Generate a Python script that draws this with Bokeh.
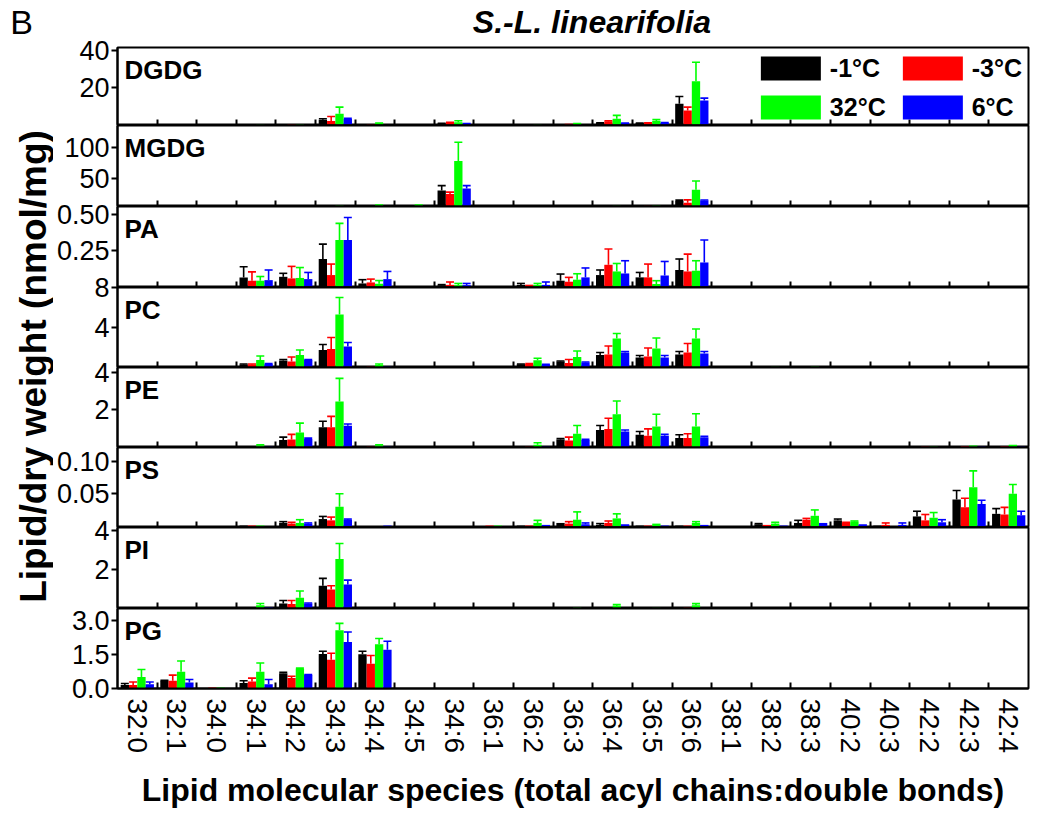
import math
from bokeh.plotting import figure
from bokeh.models import (ColumnDataSource, Range1d, FixedTicker, LinearAxis, Label,
                          Legend, LegendItem, Whisker, TeeHead, PrintfTickFormatter)
from bokeh.layouts import row, column
from bokeh.embed import file_html
from bokeh.resources import INLINE

FONT = "Liberation Sans"

categories = ["32:0", "32:1", "34:0", "34:1", "34:2", "34:3", "34:4", "34:5", "34:6",
              "36:1", "36:2", "36:3", "36:4", "36:5", "36:6", "38:1", "38:2", "38:3",
              "40:2", "40:3", "42:2", "42:3", "42:4"]
series = ["-1°C", "-3°C", "32°C", "6°C"]
colors = ["#000000", "#ff0000", "#00ff00", "#0000ff"]

# ---------------- data (mean, sd) : index order = categories ----------------
DGDG_n1    = [0,   0,   0,   0,   0.1, 2.6,  0,   0,   0.5, 0,   0,   0,   0.7, 0.7, 11.2, 0,   0,   0,   0,   0,   0,   0,   0]
DGDG_n3    = [0,   0,   0,   0,   0.2, 1.9,  0.2, 0,   0.9, 0,   0,   0.3, 1.6, 0.7, 7.6,  0,   0,   0,   0,   0,   0,   0,   0]
DGDG_p32   = [0,   0,   0,   0.1, 0.2, 5.8,  0.5, 0,   1.2, 0,   0.1, 0.3, 3.1, 1.8, 23.5, 0,   0,   0,   0,   0,   0,   0,   0]
DGDG_p6    = [0,   0,   0,   0,   0,   3.0,  0,   0,   0.4, 0,   0,   0,   0.7, 0.9, 13.0, 0,   0,   0,   0,   0,   0,   0,   0]
DGDG_n1_sd = [0,   0,   0,   0,   0,   0.5,  0,   0,   0.1, 0,   0,   0,   0.2, 0.1, 4.0,  0,   0,   0,   0,   0,   0,   0,   0]
DGDG_n3_sd = [0,   0,   0,   0,   0,   2.4,  0,   0,   0.3, 0,   0,   0,   0.3, 0.2, 1.8,  0,   0,   0,   0,   0,   0,   0,   0]
DGDG_p32_sd= [0,   0,   0,   0,   0,   3.6,  0.2, 0,   0.8, 0,   0,   0.1, 1.8, 0.8, 10.4, 0,   0,   0,   0,   0,   0,   0,   0]
DGDG_p6_sd = [0,   0,   0,   0,   0,   0.3,  0,   0,   0.1, 0,   0,   0,   0.1, 0.1, 1.3,  0,   0,   0,   0,   0,   0,   0,   0]

MGDG_n1    = [0, 0, 0, 0, 0, 0,   0,   0,   30.6, 0, 0, 0, 0,   0,   13.7, 0, 0, 0, 0, 0, 0, 0, 0]
MGDG_n3    = [0, 0, 0, 0, 0, 0,   6.0, 6.0, 25.0, 0, 0, 0, 0,   6.2, 11.0, 0, 0, 0, 0, 0, 0, 0, 0]
MGDG_p32   = [0, 0, 0, 0, 0, 6.5, 6.8, 6.8, 78.0, 0, 0, 0, 6.3, 6.5, 32.0, 0, 0, 0, 0, 0, 0, 0, 0]
MGDG_p6    = [0, 0, 0, 0, 0, 0,   0,   0,   33.7, 0, 0, 0, 0,   0,   14.8, 0, 0, 0, 0, 0, 0, 0, 0]
MGDG_n1_sd = [0, 0, 0, 0, 0, 0,   0,   0,   7.9,  0, 0, 0, 0,   0,   1.5,  0, 0, 0, 0, 0, 0, 0, 0]
MGDG_n3_sd = [0, 0, 0, 0, 0, 0,   0,   0,   3.0,  0, 0, 0, 0,   0,   4.7,  0, 0, 0, 0, 0, 0, 0, 0]
MGDG_p32_sd= [0, 0, 0, 0, 0, 0,   0.5, 0.5, 30.0, 0, 0, 0, 0,   0,   14.0, 0, 0, 0, 0, 0, 0, 0, 0]
MGDG_p6_sd = [0, 0, 0, 0, 0, 0,   0,   0,   4.8,  0, 0, 0, 0,   0,   0.7,  0, 0, 0, 0, 0, 0, 0, 0]

PA_n1    = [0, 0, 0, 0.062, 0.066, 0.189, 0.020, 0, 0.008, 0, 0.010, 0.039, 0.078, 0.062, 0.113, 0, 0, 0, 0, 0, 0, 0, 0]
PA_n3    = [0, 0, 0, 0.039, 0.055, 0.078, 0.027, 0, 0.010, 0, 0.003, 0.032, 0.149, 0.062, 0.103, 0, 0, 0, 0, 0, 0, 0, 0]
PA_p32   = [0, 0, 0, 0.039, 0.058, 0.320, 0.018, 0, 0.008, 0, 0.010, 0.046, 0.103, 0.016, 0.108, 0, 0, 0, 0, 0, 0, 0, 0]
PA_p6    = [0, 0, 0, 0.043, 0.050, 0.320, 0.050, 0, 0.008, 0, 0.010, 0.062, 0.089, 0.075, 0.165, 0, 0, 0, 0, 0, 0, 0, 0]
PA_n1_sd = [0, 0, 0, 0.073, 0.024, 0.103, 0.026, 0, 0.004, 0, 0.010, 0.046, 0.035, 0.034, 0.076, 0, 0, 0, 0, 0, 0, 0, 0]
PA_n3_sd = [0, 0, 0, 0.061, 0.083, 0.076, 0.023, 0, 0.020, 0, 0.003, 0.030, 0.109, 0.092, 0.120, 0, 0, 0, 0, 0, 0, 0, 0]
PA_p32_sd= [0, 0, 0, 0.029, 0.072, 0.115, 0.022, 0, 0.012, 0, 0.010, 0.041, 0.055, 0.023, 0.069, 0, 0, 0, 0, 0, 0, 0, 0]
PA_p6_sd = [0, 0, 0, 0.070, 0.046, 0.156, 0.053, 0, 0.012, 0, 0.020, 0.065, 0.088, 0.097, 0.155, 0, 0, 0, 0, 0, 0, 0, 0]

PC_n1    = [0, 0, 0, 0.30, 0.70, 1.75, 0.08, 0, 0, 0, 0.32, 0.60, 1.25, 1.00, 1.30, 0, 0.05, 0.04, 0, 0, 0, 0, 0]
PC_n3    = [0, 0, 0, 0.30, 0.60, 1.85, 0.10, 0, 0, 0, 0.35, 0.45, 1.30, 1.10, 1.50, 0, 0.03, 0.05, 0, 0, 0, 0, 0]
PC_p32   = [0, 0, 0, 0.75, 1.25, 5.30, 0.25, 0, 0, 0, 0.72, 1.05, 2.90, 1.90, 2.90, 0, 0.08, 0.10, 0, 0, 0, 0, 0]
PC_p6    = [0, 0, 0, 0.35, 0.75, 2.10, 0.10, 0, 0, 0, 0.30, 0.50, 1.50, 1.00, 1.40, 0, 0.03, 0.03, 0, 0, 0, 0, 0]
PC_n1_sd = [0, 0, 0, 0.05, 0.10, 0.55, 0,    0, 0, 0, 0.03, 0.05, 0.25, 0.20, 0.30, 0, 0,    0,    0, 0, 0, 0, 0]
PC_n3_sd = [0, 0, 0, 0.05, 0.45, 1.15, 0,    0, 0, 0, 0.05, 0.35, 0.85, 0.85, 0.90, 0, 0,    0,    0, 0, 0, 0, 0]
PC_p32_sd= [0, 0, 0, 0.40, 0.50, 1.70, 0.10, 0, 0, 0, 0.20, 0.60, 0.50, 1.05, 0.95, 0, 0,    0,    0, 0, 0, 0, 0]
PC_p6_sd = [0, 0, 0, 0.05, 0.05, 0.40, 0,    0, 0, 0, 0.03, 0.05, 0.10, 0.20, 0.20, 0, 0,    0,    0, 0, 0, 0, 0]

PE_n1    = [0, 0, 0, 0.03, 0.40, 1.08, 0.05, 0, 0, 0, 0.03, 0.42, 0.93, 0.68, 0.50, 0, 0, 0.02, 0.02, 0.02, 0.03, 0.03, 0.05]
PE_n3    = [0, 0, 0, 0.03, 0.42, 1.08, 0.05, 0, 0, 0, 0.05, 0.37, 0.98, 0.63, 0.50, 0, 0, 0.02, 0.02, 0.03, 0.05, 0.08, 0.08]
PE_p32   = [0, 0, 0, 0.10, 0.80, 2.45, 0.10, 0, 0, 0, 0.15, 0.73, 1.77, 1.12, 1.12, 0, 0, 0.03, 0.03, 0.02, 0.05, 0.10, 0.15]
PE_p6    = [0, 0, 0, 0.05, 0.45, 1.16, 0.05, 0, 0, 0, 0.05, 0.40, 0.85, 0.63, 0.55, 0, 0, 0.02, 0.02, 0.02, 0.03, 0.05, 0.05]
PE_n1_sd = [0, 0, 0, 0,    0.15, 0.32, 0,    0, 0, 0, 0,    0.05, 0.24, 0.17, 0.18, 0, 0, 0, 0, 0, 0, 0, 0]
PE_n3_sd = [0, 0, 0, 0,    0.28, 0.58, 0,    0, 0, 0, 0,    0.18, 0.58, 0.36, 0.23, 0, 0, 0, 0, 0, 0, 0, 0]
PE_p32_sd= [0, 0, 0, 0.05, 0.50, 1.23, 0.05, 0, 0, 0, 0.10, 0.44, 0.71, 0.65, 0.68, 0, 0, 0, 0, 0, 0, 0, 0]
PE_p6_sd = [0, 0, 0, 0,    0.05, 0.09, 0,    0, 0, 0, 0,    0.03, 0.08, 0.07, 0.05, 0, 0, 0, 0, 0, 0, 0, 0]

PS_n1    = [0, 0, 0, 0.001, 0.005, 0.011, 0,     0, 0, 0,     0.001, 0.005, 0.002, 0.001, 0.001, 0, 0.003, 0.005, 0.009, 0.001, 0.015, 0.041, 0.019]
PS_n3    = [0, 0, 0, 0.001, 0.004, 0.009, 0,     0, 0, 0.001, 0.001, 0.004, 0.005, 0.001, 0.001, 0, 0.002, 0.010, 0.005, 0.002, 0.009, 0.029, 0.018]
PS_p32   = [0, 0, 0, 0.001, 0.005, 0.030, 0,     0, 0, 0.001, 0.005, 0.010, 0.012, 0.004, 0.005, 0, 0.004, 0.016, 0.007, 0,     0.013, 0.060, 0.050]
PS_p6    = [0, 0, 0, 0,     0.004, 0.010, 0.001, 0, 0, 0,     0.002, 0.003, 0.003, 0.001, 0.002, 0, 0.001, 0.005, 0.003, 0.002, 0.006, 0.034, 0.017]
PS_n1_sd = [0, 0, 0, 0,     0.002, 0.004, 0,     0, 0, 0,     0,     0,     0.002, 0,     0,     0, 0.001, 0.004, 0.002, 0,     0.008, 0.014, 0.008]
PS_n3_sd = [0, 0, 0, 0,     0.002, 0.005, 0,     0, 0, 0,     0,     0.003, 0.003, 0,     0,     0, 0,     0.002, 0.001, 0.003, 0.009, 0.014, 0.011]
PS_p32_sd= [0, 0, 0, 0,     0.005, 0.020, 0,     0, 0, 0,     0.004, 0.012, 0.007, 0,     0.002, 0, 0.002, 0.009, 0.001, 0,     0.008, 0.025, 0.014]
PS_p6_sd = [0, 0, 0, 0,     0.001, 0.001, 0,     0, 0, 0,     0,     0.002, 0,     0,     0,     0, 0,     0,     0,     0.003, 0.004, 0.006, 0.006]

PI_n1    = [0, 0, 0, 0.05, 0.26, 1.17, 0,    0, 0, 0.02, 0,    0,    0.02, 0.02, 0.02, 0, 0, 0, 0, 0, 0, 0, 0]
PI_n3    = [0, 0, 0, 0.03, 0.23, 0.98, 0,    0, 0, 0,    0,    0,    0.03, 0.03, 0.05, 0, 0, 0, 0, 0, 0, 0, 0]
PI_p32   = [0, 0, 0, 0.17, 0.55, 2.55, 0.03, 0, 0, 0.03, 0.02, 0.05, 0.14, 0.04, 0.17, 0, 0, 0, 0, 0, 0, 0, 0]
PI_p6    = [0, 0, 0, 0.08, 0.26, 1.24, 0,    0, 0, 0,    0,    0,    0.02, 0,    0.03, 0, 0, 0, 0, 0, 0, 0, 0]
PI_n1_sd = [0, 0, 0, 0,    0.15, 0.38, 0,    0, 0, 0,    0,    0,    0,    0,    0,    0, 0, 0, 0, 0, 0, 0, 0]
PI_n3_sd = [0, 0, 0, 0,    0.18, 0.19, 0,    0, 0, 0,    0,    0,    0,    0,    0,    0, 0, 0, 0, 0, 0, 0, 0]
PI_p32_sd= [0, 0, 0, 0.09, 0.35, 0.80, 0,    0, 0, 0,    0,    0,    0.06, 0,    0.08, 0, 0, 0, 0, 0, 0, 0, 0]
PI_p6_sd = [0, 0, 0, 0,    0.02, 0.22, 0,    0, 0, 0,    0,    0,    0,    0,    0,    0, 0, 0, 0, 0, 0, 0, 0]

PG_n1    = [0.15, 0.34, 0.02, 0.24, 0.68, 1.53, 1.52, 0, 0, 0, 0, 0, 0, 0, 0, 0, 0, 0, 0, 0, 0, 0, 0]
PG_n3    = [0.15, 0.34, 0.04, 0.31, 0.46, 1.27, 1.10, 0, 0, 0, 0, 0, 0, 0, 0, 0, 0, 0, 0, 0, 0, 0, 0]
PG_p32   = [0.51, 0.74, 0.04, 0.74, 0.87, 2.58, 1.96, 0, 0, 0, 0, 0, 0, 0, 0, 0, 0, 0, 0, 0, 0, 0, 0]
PG_p6    = [0.19, 0.27, 0,    0.19, 0.60, 2.06, 1.72, 0, 0, 0, 0, 0, 0, 0, 0, 0, 0, 0, 0, 0, 0, 0, 0]
PG_n1_sd = [0.07, 0.02, 0,    0.10, 0.04, 0.12, 0.13, 0, 0, 0, 0, 0, 0, 0, 0, 0, 0, 0, 0, 0, 0, 0, 0]
PG_n3_sd = [0.14, 0.25, 0,    0.15, 0.08, 0.29, 0.36, 0, 0, 0, 0, 0, 0, 0, 0, 0, 0, 0, 0, 0, 0, 0, 0]
PG_p32_sd= [0.33, 0.48, 0,    0.39, 0.03, 0.30, 0.25, 0, 0, 0, 0, 0, 0, 0, 0, 0, 0, 0, 0, 0, 0, 0, 0]
PG_p6_sd = [0.10, 0.13, 0,    0.21, 0.02, 0.44, 0.37, 0, 0, 0, 0, 0, 0, 0, 0, 0, 0, 0, 0, 0, 0, 0, 0]

# panel: name, means, sds, y-range, y ticks, tick format
panels = [
    ("DGDG", [DGDG_n1, DGDG_n3, DGDG_p32, DGDG_p6], [DGDG_n1_sd, DGDG_n3_sd, DGDG_p32_sd, DGDG_p6_sd], (-0.6, 41.9), [20, 40], "%d"),
    ("MGDG", [MGDG_n1, MGDG_n3, MGDG_p32, MGDG_p6], [MGDG_n1_sd, MGDG_n3_sd, MGDG_p32_sd, MGDG_p6_sd], (5.0, 135.0), [50, 100], "%d"),
    ("PA", [PA_n1, PA_n3, PA_p32, PA_p6], [PA_n1_sd, PA_n3_sd, PA_p32_sd, PA_p6_sd], (-0.008, 0.552), [0.25, 0.50], "%.2f"),
    ("PC", [PC_n1, PC_n3, PC_p32, PC_p6], [PC_n1_sd, PC_n3_sd, PC_p32_sd, PC_p6_sd], (0.0, 8.0), [4, 8], "%d"),
    ("PE", [PE_n1, PE_n3, PE_p32, PE_p6], [PE_n1_sd, PE_n3_sd, PE_p32_sd, PE_p6_sd], (0.0, 4.26), [2, 4], "%d"),
    ("PS", [PS_n1, PS_n3, PS_p32, PS_p6], [PS_n1_sd, PS_n3_sd, PS_p32_sd, PS_p6_sd], (-0.002, 0.121), [0.05, 0.10], "%.2f"),
    ("PI", [PI_n1, PI_n3, PI_p32, PI_p6], [PI_n1_sd, PI_n3_sd, PI_p32_sd, PI_p6_sd], (0.0, 4.17), [2, 4], "%d"),
    ("PG", [PG_n1, PG_n3, PG_p32, PG_p6], [PG_n1_sd, PG_n3_sd, PG_p32_sd, PG_p6_sd], (0.0, 3.54), [0.0, 1.5, 3.0], "%.1f"),
]

frame_h = [78, 81, 81, 80, 80, 80, 81, 80]
OV = 16                 # overlap so that edge tick labels are not cut
LAB_W = 45
LEFT, RIGHT = 62, 14
FRAME_W = 913
W = LEFT + FRAME_W + RIGHT
TITLE_H = 47
BOTTOM_LAST = 122

ncat = len(categories)
x_range = Range1d(-0.5, ncat - 0.5)
offsets = [-0.315, -0.105, 0.105, 0.315]
bar_w = 0.21
boundaries = [k + 0.5 for k in range(ncat - 1)]


def blank_fig(width, height):
    f = figure(width=width, height=height, x_range=Range1d(0, 1), y_range=Range1d(0, 1),
               output_backend="svg", toolbar_location=None,
               x_axis_location=None, y_axis_location=None, min_border=0)
    f.grid.visible = False
    f.outline_line_color = None
    f.border_fill_color = None
    f.background_fill_color = None
    return f


# title strip
title_fig = blank_fig(W, TITLE_H)
title_fig.add_layout(Label(x=LEFT + FRAME_W / 2 - 44, y=TITLE_H - 21, x_units="screen", y_units="screen",
                           text="S.-L. linearifolia", text_font=FONT,
                           text_font_style="bold italic", text_font_size="32px",
                           text_color="black", text_align="center", text_baseline="middle"))

figs = []
for i, (name, means, sds, (lo, hi), yt, fmt) in enumerate(panels):
    first = i == 0
    last = i == len(panels) - 1
    bot_b = BOTTOM_LAST if last else 0
    p = figure(width=W, height=frame_h[i] + OV + bot_b,
               x_range=x_range, y_range=Range1d(lo, hi),
               output_backend="svg", toolbar_location=None,
               x_axis_location=None, y_axis_location=None,
               min_border_left=LEFT, min_border_right=RIGHT,
               min_border_top=OV, min_border_bottom=bot_b,
               margin=(-OV, 0, 0, 0))
    p.grid.visible = False
    p.outline_line_color = "black"
    p.outline_line_width = 2
    p.border_fill_color = None
    p.background_fill_color = "white"

    # x axis: inward ticks at the category boundaries
    if last:
        xa = LinearAxis(ticker=FixedTicker(ticks=list(range(ncat)), minor_ticks=boundaries))
        xa.major_label_overrides = {k: c for k, c in enumerate(categories)}
        xa.major_label_orientation = "vertical"
        xa.major_label_text_font = FONT
        xa.major_label_text_font_size = "28px"
        xa.major_label_text_color = "black"
        xa.major_label_standoff = 10
        xa.axis_label = "Lipid molecular species (total acyl chains:double bonds)"
        xa.axis_label_text_font = FONT
        xa.axis_label_text_font_size = "32px"
        xa.axis_label_text_font_style = "bold"
        xa.axis_label_text_color = "black"
        xa.axis_label_standoff = 16
    else:
        xa = LinearAxis(ticker=FixedTicker(ticks=[], minor_ticks=boundaries))
    xa.major_tick_in = 0
    xa.major_tick_out = 0
    xa.minor_tick_in = 6
    xa.minor_tick_out = 0
    xa.minor_tick_line_width = 2
    xa.minor_tick_line_color = "black"
    xa.axis_line_width = 2
    xa.axis_line_color = "black"
    p.add_layout(xa, "below")

    ya = LinearAxis(ticker=FixedTicker(ticks=yt, minor_ticks=[]),
                    formatter=PrintfTickFormatter(format=fmt),
                    major_tick_out=6, major_tick_in=0,
                    minor_tick_out=0, minor_tick_in=0,
                    major_tick_line_width=2, axis_line_width=2,
                    major_label_text_font=FONT, major_label_text_font_size="27px",
                    major_label_text_color="black", major_label_standoff=2)
    p.add_layout(ya, "left")

    rends = []
    for s in range(4):
        xs = [k + offsets[s] for k in range(ncat)]
        src = ColumnDataSource(dict(x=xs, top=means[s]))
        r = p.vbar(x="x", top="top", bottom=0, width=bar_w, source=src,
                   fill_color=colors[s], line_color=None)
        rends.append(r)
        ex = [xs[k] for k in range(ncat) if sds[s][k] > 0]
        el = [means[s][k] for k in range(ncat) if sds[s][k] > 0]
        eu = [means[s][k] + sds[s][k] for k in range(ncat) if sds[s][k] > 0]
        esrc = ColumnDataSource(dict(base=ex, lower=el, upper=eu))
        wh = Whisker(source=esrc, base="base", lower="lower", upper="upper",
                     line_color=colors[s], line_width=1.6,
                     upper_head=TeeHead(size=8, line_color=colors[s], line_width=1.6),
                     lower_head=None)
        p.add_layout(wh)

    p.add_layout(Label(x=7, y=frame_h[i] - 22, x_units="screen", y_units="screen",
                       text=name, text_font=FONT, text_font_style="bold",
                       text_font_size="26px", text_color="black", text_baseline="middle"))

    if first:
        order = [0, 2, 1, 3]   # fills column-wise -> rows: (-1, -3), (32, 6)
        legend = Legend(items=[LegendItem(label=series[s], renderers=[rends[s]]) for s in order],
                        location="top_right", ncols=2,
                        glyph_width=75, glyph_height=30, label_height=30,
                        label_standoff=2, spacing=9, padding=0, margin=6,
                        label_text_font=FONT, label_text_font_size="25px",
                        label_text_font_style="bold", label_text_color="black",
                        border_line_color=None, background_fill_alpha=0)
        p.add_layout(legend)
    figs.append(p)

total_h = TITLE_H + sum(f.height for f in figs) - OV * len(figs)
lab = blank_fig(LAB_W, total_h)
lab.add_layout(Label(x=13, y=total_h - 21, x_units="screen", y_units="screen",
                     text="B", text_font=FONT, text_font_size="34px", text_color="black",
                     text_align="center", text_baseline="middle"))
lab.add_layout(Label(x=25, y=total_h - 366, x_units="screen", y_units="screen",
                     text="Lipid/dry weight (nmol/mg)", text_font=FONT,
                     text_font_style="bold", text_font_size="37px", text_color="black",
                     angle=math.pi / 2, text_align="center", text_baseline="middle"))

layout = row(lab, column(title_fig, *figs, spacing=0), spacing=0, margin=(0, 0, 0, 8))
open("out.html", "w").write(file_html(layout, INLINE))
